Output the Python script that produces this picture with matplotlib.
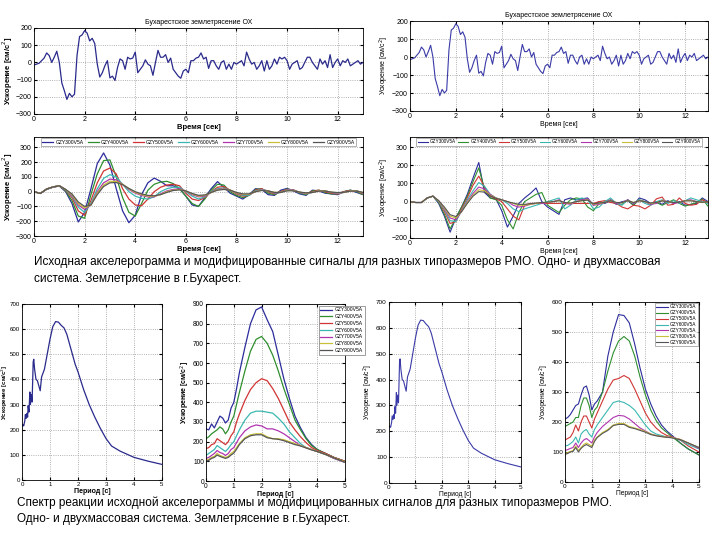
import numpy as np
import matplotlib
matplotlib.use('Agg')
import matplotlib.pyplot as plt

plt.rcParams['font.family'] = ['Liberation Sans', 'DejaVu Sans']

# original accelerogram, 0.1 s step
acc = [-15, -10, -5, 10, 25, 55, 40, 0, 30, 65,
       0, -120, -165, -215, -180, -200, -185, 40, 150, 160,
       185, 170, 125, 140, 110, -10, -85, -60, -20, 10,
       -90, -80, -105, -30, 20, 10, -40, 30, 20, 25,
       60, -60, -40, -20, 15, -10, -20, -75, 0, 70,
       30, 30, 45, 0, 25, -40, -60, -80, -92, -50,
       -40, -60, 10, 10, 25, 30, 55, 20, 30, -35,
       10, 10, -20, -40, 0, 10, -40, -10, -40, 0,
       -10, 0, 10, -20, 60, 20, -10, 0, -40, -20,
       10, -50, 10, -40, -20, 20, -10, 30, 20, 30,
       10, -40, -10, 0, 10, -40, -30, 0, 30, 30,
       0, -20, -40, 20, -10, 10, -30, 45, -30, 0,
       20, -20, 10, 0, 20, -20, -10, 0, 10, -10,
       0]
t_acc = np.round(np.arange(len(acc)) * 0.1, 2)

names = ['GZY300V5A', 'GZY400V5A', 'GZY500V5A', 'GZY600V5A',
         'GZY700V5A', 'GZY800V5A', 'GZY900V5A']
colors = ['#2c2c9c', '#2f8f2f', '#d03434', '#3ab8b0', '#b034b0', '#c8c03a', '#555555']

# modified signals, single-mass, 0.25 s step
sig1 = [
    [0, -12, 15, 30, 38, 0, -80, -205, -140, 20, 190, 262, 180, 20, -130, -210, -160, -20, 60, 92,
     70, 40, 40, 20, -30, -90, -100, -40, 20, 68, 30, -10, -30, -50, -20, 20, 15, -20, -25, 10,
     22, 5, -15, -25, 10, 5, -10, -15, -20, 0, 10, -5, -20],
    [0, -12, 18, 32, 40, 5, -60, -165, -180, -20, 120, 210, 215, 100, -40, -140, -165, -80, 10, 50,
     65, 70, 55, 20, -30, -80, -100, -50, 10, 50, 45, 0, -25, -40, -25, 15, 20, -10, -20, 0,
     18, 10, -10, -20, 5, 10, -5, -15, -15, 0, 10, 0, -20],
    [0, -12, 18, 32, 40, 10, -40, -130, -160, -60, 60, 140, 160, 120, 20, -50, -90, -95, -50, 0,
     30, 45, 50, 40, -10, -50, -60, -40, 0, 30, 35, 10, -15, -30, -25, 10, 20, 0, -15, 0,
     15, 12, -5, -15, 0, 10, 0, -10, -15, 0, 8, 5, -15],
    [0, -12, 18, 32, 40, 12, -30, -105, -140, -80, 20, 90, 115, 100, 50, 0, -30, -45, -50, -35,
     0, 20, 30, 30, 0, -30, -50, -35, 0, 20, 25, 10, -10, -25, -25, 5, 15, 5, -10, -5,
     12, 10, -5, -15, -5, 5, 5, -5, -12, -5, 5, 5, -10],
    [0, -12, 18, 32, 40, 15, -25, -90, -120, -90, 0, 60, 85, 80, 50, 15, -10, -25, -35, -35,
     -15, 5, 15, 20, 5, -20, -35, -30, -5, 15, 20, 10, -10, -20, -20, 0, 12, 5, -8, -5,
     10, 10, -5, -12, -5, 5, 5, -5, -10, -5, 5, 5, -8],
    [0, -12, 18, 32, 40, 15, -20, -80, -110, -90, -10, 45, 70, 70, 50, 20, -5, -20, -30, -30,
     -20, 0, 10, 15, 5, -15, -30, -25, -5, 12, 18, 10, -8, -18, -18, 0, 10, 5, -5, -5,
     8, 8, -3, -10, -5, 5, 5, -3, -8, -5, 5, 5, -6],
    [0, -12, 18, 32, 40, 15, -15, -70, -100, -90, -20, 35, 60, 62, 48, 22, 0, -15, -25, -28,
     -20, -5, 8, 12, 5, -12, -25, -22, -5, 10, 15, 10, -5, -15, -15, 0, 8, 5, -5, -5,
     6, 6, -3, -8, -5, 4, 4, -3, -6, -4, 4, 4, -5],
]
# modified signals, two-mass
sig2 = [
    [0, -5, -5, 20, 30, -10, -80, -168, -90, -30, 40, 130, 215, 50, 20, 15, -50, -140, -80, -10,
     20, 45, 75, 0, -30, -50, -70, 10, 20, 10, 15, 20, -20, 0, -10, 5, -15, 0, 5, -20,
     20, 10, -10, 0, -15, 5, -10, 0, -20, -15, -10, 20, 0],
    [0, -5, -5, 20, 30, -5, -70, -150, -90, -30, 30, 110, 185, 70, 20, 10, -20, -100, -150, -60,
     0, 20, 40, 50, -20, -40, -60, -20, 10, 20, 15, -30, -50, -10, 0, 10, -10, -15, 10, -20,
     10, 0, -15, -5, -20, -5, 10, -10, -25, -15, -5, 15, -25],
    [0, -5, -5, 20, 30, 0, -55, -120, -110, -40, 20, 90, 140, 80, 30, 15, 0, -40, -80, -100,
     -20, -10, -10, -10, -10, -10, -10, -10, -10, -10, -10, -10, -10, 0, 5, -5, -10, -30, -40, -20,
     -25, -40, -20, 15, 25, -20, -15, 20, -10, -20, -15, 10, -5],
    [0, -5, -5, 20, 30, 0, -45, -105, -110, -50, 10, 60, 105, 85, 40, 20, 10, -10, -40, -55,
     -40, -30, -20, -10, 0, 10, 20, -40, -20, 10, 20, 10, -40, -30, 0, 20, -10, -20, 10, -10,
     10, -10, -20, 0, 10, -10, 5, -10, 5, 20, 10, 0, -10],
    [0, -5, -5, 20, 30, 5, -40, -90, -100, -55, 0, 45, 80, 70, 40, 20, 10, 0, -20, -30,
     -25, -15, -10, -10, -5, 0, 10, -10, -15, 0, 10, 15, -20, -15, -5, 10, -10, -5, 10, -10,
     5, 0, -15, -10, 5, 0, -10, -5, 5, 10, 0, -5, 0],
    [0, -5, -5, 20, 30, 5, -35, -80, -90, -55, -5, 35, 65, 60, 35, 20, 10, 0, -10, -20,
     -20, -15, -10, -5, -5, 0, 5, -5, -10, 0, 5, 10, -15, -10, -5, 5, -5, -5, 5, -5,
     5, 0, -10, -5, 5, 0, -5, -5, 5, 5, 0, -5, 0],
    [0, -5, -5, 20, 30, 5, -30, -72, -82, -55, -10, 30, 55, 52, 32, 18, 10, 0, -8, -15,
     -15, -12, -8, -5, -3, 0, 5, -5, -8, 0, 5, 8, -12, -8, -5, 5, -5, -5, 5, -5,
     5, 0, -8, -5, 4, 0, -5, -4, 4, 4, 0, -4, 0],
]
t_sig = np.round(np.arange(53) * 0.25, 2)

# response spectrum of original record
per0 = [0, 0.03, 0.06, 0.1, 0.12, 0.15, 0.18, 0.2, 0.22, 0.25, 0.28, 0.3, 0.33, 0.36, 0.4,
        0.42, 0.45, 0.5, 0.55, 0.6, 0.65, 0.7, 0.8, 0.9, 1.0, 1.1, 1.2, 1.3, 1.4, 1.5,
        1.6, 1.7, 1.8, 1.9, 2.0, 2.2, 2.4, 2.6, 2.8, 3.0, 3.2, 3.5, 4.0, 4.5, 5.0]
spec0 = [215, 220, 215, 235, 260, 245, 265, 250, 295, 270, 350, 300, 340, 310, 470,
         480, 440, 400, 395, 375, 355, 410, 440, 500, 560, 610, 630, 628, 615, 605,
         580, 540, 500, 460, 430, 360, 300, 250, 205, 165, 135, 115, 90, 75, 62]

# response spectra of modified signals
per = [0, 0.1, 0.2, 0.3, 0.4, 0.5, 0.6, 0.7, 0.8, 0.9, 1.0, 1.1, 1.2, 1.4, 1.6,
       1.8, 2.0, 2.2, 2.4, 2.6, 2.8, 3.0, 3.2, 3.4, 3.6, 3.8, 4.0, 4.3, 4.6, 5.0]
spec1 = [
    [265, 260, 290, 270, 300, 330, 320, 295, 310, 370, 400, 470, 550, 680, 800,
     870, 885, 820, 760, 640, 520, 420, 330, 270, 220, 185, 160, 140, 120, 100],
    [215, 225, 240, 250, 260, 275, 265, 240, 260, 300, 330, 390, 450, 560, 660,
     720, 735, 700, 640, 560, 470, 390, 310, 260, 215, 180, 160, 140, 120, 100],
    [165, 170, 185, 190, 215, 205, 195, 185, 200, 230, 250, 300, 340, 410, 465,
     500, 520, 510, 470, 420, 360, 300, 260, 225, 195, 170, 155, 140, 120, 100],
    [130, 140, 150, 160, 180, 170, 160, 150, 165, 185, 200, 230, 260, 310, 345,
     355, 355, 350, 345, 320, 290, 250, 220, 190, 170, 160, 150, 135, 115, 95],
    [115, 120, 130, 140, 155, 145, 140, 130, 140, 160, 170, 195, 220, 255, 275,
     285, 280, 265, 265, 255, 240, 220, 200, 180, 170, 160, 150, 135, 115, 95],
    [105, 110, 120, 125, 140, 130, 125, 120, 125, 140, 150, 170, 190, 220, 235,
     240, 240, 225, 215, 215, 210, 200, 190, 180, 170, 160, 150, 135, 118, 97],
    [100, 105, 115, 120, 132, 125, 120, 115, 120, 132, 142, 162, 185, 215, 230,
     235, 235, 220, 215, 212, 205, 195, 185, 178, 168, 158, 150, 135, 118, 95],
]
spec2 = [
    [210, 215, 225, 240, 255, 260, 290, 315, 320, 290, 240, 260, 270, 300, 420,
     500, 558, 555, 530, 460, 380, 310, 260, 220, 190, 170, 155, 130, 110, 90],
    [185, 190, 195, 200, 215, 215, 255, 280, 280, 255, 215, 240, 250, 300, 370,
     430, 470, 485, 470, 420, 350, 290, 240, 205, 180, 165, 150, 130, 110, 90],
    [140, 145, 150, 165, 190, 170, 200, 220, 220, 200, 180, 210, 230, 270, 310,
     340, 345, 355, 345, 310, 270, 230, 200, 180, 165, 155, 150, 140, 120, 100],
    [120, 122, 128, 135, 150, 130, 160, 170, 175, 160, 150, 175, 190, 215, 240,
     265, 270, 265, 255, 240, 215, 190, 170, 160, 155, 150, 148, 140, 125, 110],
    [105, 108, 112, 115, 130, 115, 130, 140, 145, 138, 130, 150, 165, 185, 200,
     215, 222, 220, 210, 195, 180, 170, 160, 155, 152, 150, 148, 142, 130, 112],
    [95, 98, 102, 105, 120, 105, 115, 125, 130, 125, 120, 140, 150, 165, 175,
     190, 195, 195, 185, 180, 175, 168, 160, 155, 152, 150, 148, 142, 130, 115],
    [92, 95, 100, 102, 115, 100, 112, 120, 125, 120, 115, 135, 148, 162, 172,
     188, 192, 192, 182, 178, 172, 166, 158, 154, 151, 149, 147, 141, 130, 115],
]

ylab = 'Ускорение [см/с$^2$]'
W, H = 720, 540
fig = plt.figure(figsize=(7.2, 5.4), dpi=100)


def box(l, t, r, b):
    return [l / W, 1 - b / H, (r - l) / W, (b - t) / H]


def style(ax, fs=5):
    ax.grid(True, linestyle=':', color='#999999', linewidth=0.6)
    ax.tick_params(direction='in', length=2, labelsize=fs, pad=1.5, top=True, right=True)
    for s in ax.spines.values():
        s.set_linewidth(0.6)


# top row: accelerogram
ax1 = fig.add_axes(box(34, 28, 363, 114))
ax1.plot(t_acc, acc, color='#2a2a8c', lw=0.9)
ax1.set_xlim(0, 13)
ax1.set_ylim(-300, 200)
ax1.set_xticks(range(0, 13, 2))
ax1.set_title('Бухарестское землетрясение ОХ', fontsize=5, pad=3)
ax1.set_xlabel('Время [сек]', fontsize=5.5, fontweight='bold', labelpad=1)
ax1.set_ylabel(ylab, fontsize=5.5, fontweight='bold', labelpad=1)
style(ax1)

ax2 = fig.add_axes(box(410, 21, 708, 111))
ax2.plot(t_acc, acc, color='#3a3aa8', lw=0.8)
ax2.set_xlim(0, 13)
ax2.set_ylim(-300, 200)
ax2.set_xticks(range(0, 13, 2))
ax2.set_title('Бухарестское землетрясение ОХ', fontsize=5, pad=3)
ax2.set_xlabel('Время [сек]', fontsize=5, labelpad=1)
ax2.set_ylabel(ylab, fontsize=5, labelpad=1)
style(ax2)

# middle row: modified signals
ax3 = fig.add_axes(box(34, 137, 363, 236))
for i in range(7):
    ax3.plot(t_sig, sig1[i], color=colors[i], lw=0.9, label=names[i])
ax3.set_xlim(0, 13)
ax3.set_ylim(-300, 370)
ax3.set_xticks(range(0, 13, 2))
ax3.set_yticks(range(-300, 301, 100))
ax3.set_xlabel('Время [сек]', fontsize=5.5, fontweight='bold', labelpad=1)
ax3.set_ylabel(ylab, fontsize=5.5, fontweight='bold', labelpad=1)
ax3.legend(loc='upper center', ncol=7, fontsize=3.6, frameon=True, fancybox=False,
           edgecolor='#777777', handlelength=2.2, columnspacing=0.8, borderpad=0.3,
           handletextpad=0.4, borderaxespad=0.2).get_frame().set_linewidth(0.5)
style(ax3)

ax4 = fig.add_axes(box(410, 137, 708, 238))
for i in range(7):
    ax4.plot(t_sig, sig2[i], color=colors[i], lw=0.8, label=names[i])
ax4.set_xlim(0, 13)
ax4.set_ylim(-200, 355)
ax4.set_xticks(range(0, 13, 2))
ax4.set_yticks(range(-200, 301, 100))
ax4.set_xlabel('Время [сек]', fontsize=5, labelpad=1)
ax4.set_ylabel(ylab, fontsize=5, labelpad=1)
ax4.legend(loc='upper center', ncol=7, fontsize=3.3, frameon=True, fancybox=False,
           edgecolor='#777777', handlelength=2.2, columnspacing=0.6, borderpad=0.3,
           handletextpad=0.4, borderaxespad=0.2).get_frame().set_linewidth(0.5)
style(ax4)

fig.text(34 / W, 1 - 262 / H,
         'Исходная акселерограмма и модифицированные сигналы для разных типоразмеров РМО. Одно- и двухмассовая',
         fontsize=8.5, va='center', ha='left')
fig.text(34 / W, 1 - 279 / H, 'система. Землетрясение в г.Бухарест.',
         fontsize=8.5, va='center', ha='left')

# bottom row: response spectra
ax5 = fig.add_axes(box(22, 304, 162, 480))
ax5.plot(per0, spec0, color='#2a2a8c', lw=0.9)
ax5.set_xlim(0, 5)
ax5.set_ylim(0, 700)
ax5.set_yticks(range(0, 701, 100))
ax5.set_xlabel('Период [с]', fontsize=5, fontweight='bold', labelpad=0.5)
ax5.set_ylabel(ylab, fontsize=4.4, fontweight='bold')
ax5.yaxis.set_label_coords(-0.088, 0.5)
ax5.tick_params(axis='y', pad=1)
style(ax5, 4.4)

ax6 = fig.add_axes(box(206, 304, 345, 481))
for i in range(7):
    ax6.plot(per, spec1[i], color=colors[i], lw=0.9, label=names[i])
ax6.set_xlim(0, 5)
ax6.set_ylim(0, 900)
ax6.set_yticks(range(0, 901, 100))
ax6.set_xlabel('Период [с]', fontsize=5, fontweight='bold', labelpad=0.5)
ax6.set_ylabel(ylab, fontsize=5, fontweight='bold', labelpad=1)
style(ax6, 4.8)

ax7 = fig.add_axes(box(389, 302, 521, 483))
ax7.plot(per0, spec0, color='#3a3aa8', lw=0.8)
ax7.set_xlim(0, 5)
ax7.set_ylim(0, 700)
ax7.set_yticks(range(0, 701, 100))
ax7.set_xlabel('Период [с]', fontsize=4.8, labelpad=0.5)
ax7.set_ylabel(ylab, fontsize=4.8, labelpad=1)
style(ax7, 4.6)

ax8 = fig.add_axes(box(565, 302, 699, 482))
for i in range(7):
    ax8.plot(per, spec2[i], color=colors[i], lw=0.8, label=names[i])
ax8.set_xlim(0, 5)
ax8.set_ylim(0, 600)
ax8.set_yticks(range(0, 601, 100))
ax8.set_xlabel('Период [с]', fontsize=4.8, labelpad=0.5)
ax8.set_ylabel(ylab, fontsize=4.8, labelpad=1)
ax8.legend(loc='upper right', fontsize=3.4, frameon=True, fancybox=False, edgecolor='#777777',
           handlelength=2.4, borderpad=0.3, labelspacing=0.2, handletextpad=0.5,
           borderaxespad=0.2).get_frame().set_linewidth(0.5)
style(ax8, 4.6)

# legend of ax6 sticks out past its right edge, drawn on top of everything
leg6 = ax6.legend(loc='upper left', bbox_to_anchor=(316 / W, 1 - 303 / H),
                  bbox_transform=fig.transFigure, fontsize=3.6, frameon=True, fancybox=False,
                  edgecolor='#777777', handlelength=2.4, borderpad=0.35, labelspacing=0.35,
                  handletextpad=0.5, framealpha=1)
leg6.get_frame().set_linewidth(0.5)
leg6.set_zorder(10)
ax6.set_zorder(5)

fig.text(17 / W, 1 - 503 / H,
         'Спектр реакции исходной акселерограммы и модифицированных сигналов для разных типоразмеров РМО.',
         fontsize=8.5, va='center', ha='left')
fig.text(17 / W, 1 - 519 / H, 'Одно- и двухмассовая система. Землетрясение в г.Бухарест.',
         fontsize=8.5, va='center', ha='left')

fig.savefig('out.png', dpi=100)
